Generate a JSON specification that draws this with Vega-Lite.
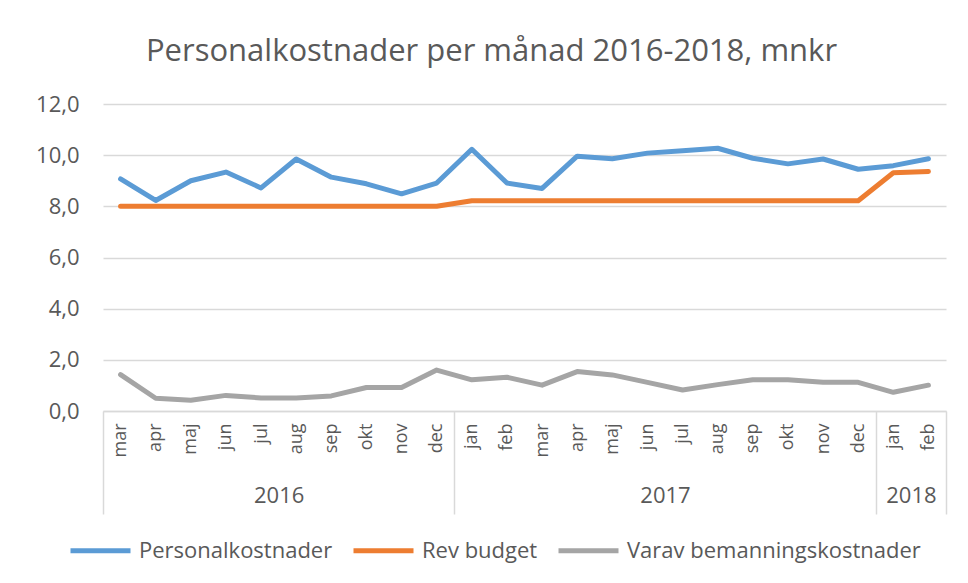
{
  "$schema": "https://vega.github.io/schema/vega-lite/v6.json",
  "width": 843,
  "height": 307,
  "autosize": {"type": "none"},
  "padding": {"left": 103, "top": 104, "right": 22, "bottom": 172},
  "background": "white",
  "title": {
    "text": "Personalkostnader per månad 2016-2018, mnkr",
    "font": "Open Sans",
    "fontSize": 31,
    "fontWeight": "normal",
    "color": "#595959",
    "anchor": "middle",
    "frame": "group",
    "dx": -33,
    "offset": 25
  },
  "config": {"view": {"stroke": null}, "font": "Open Sans"},
  "resolve": {"scale": {"x": "independent"}, "axis": {"x": "independent"}},
  "layer": [
    {
      "data": {
        "values": [
          {"period": "mar 2016", "Personalkostnader": 9.07, "Rev budget": 8.0, "Varav bemanningskostnader": 1.42},
          {"period": "apr 2016", "Personalkostnader": 8.23, "Rev budget": 8.0, "Varav bemanningskostnader": 0.5},
          {"period": "maj 2016", "Personalkostnader": 9.0, "Rev budget": 8.0, "Varav bemanningskostnader": 0.42},
          {"period": "jun 2016", "Personalkostnader": 9.34, "Rev budget": 8.0, "Varav bemanningskostnader": 0.61},
          {"period": "jul 2016", "Personalkostnader": 8.72, "Rev budget": 8.0, "Varav bemanningskostnader": 0.51},
          {"period": "aug 2016", "Personalkostnader": 9.85, "Rev budget": 8.0, "Varav bemanningskostnader": 0.51},
          {"period": "sep 2016", "Personalkostnader": 9.14, "Rev budget": 8.0, "Varav bemanningskostnader": 0.59},
          {"period": "okt 2016", "Personalkostnader": 8.88, "Rev budget": 8.0, "Varav bemanningskostnader": 0.92},
          {"period": "nov 2016", "Personalkostnader": 8.49, "Rev budget": 8.0, "Varav bemanningskostnader": 0.92},
          {"period": "dec 2016", "Personalkostnader": 8.91, "Rev budget": 8.0, "Varav bemanningskostnader": 1.6},
          {"period": "jan 2017", "Personalkostnader": 10.23, "Rev budget": 8.22, "Varav bemanningskostnader": 1.22},
          {"period": "feb 2017", "Personalkostnader": 8.91, "Rev budget": 8.22, "Varav bemanningskostnader": 1.32},
          {"period": "mar 2017", "Personalkostnader": 8.7, "Rev budget": 8.22, "Varav bemanningskostnader": 1.01},
          {"period": "apr 2017", "Personalkostnader": 9.96, "Rev budget": 8.22, "Varav bemanningskostnader": 1.54},
          {"period": "maj 2017", "Personalkostnader": 9.86, "Rev budget": 8.22, "Varav bemanningskostnader": 1.41},
          {"period": "jun 2017", "Personalkostnader": 10.08, "Rev budget": 8.22, "Varav bemanningskostnader": 1.12},
          {"period": "jul 2017", "Personalkostnader": 10.17, "Rev budget": 8.22, "Varav bemanningskostnader": 0.82},
          {"period": "aug 2017", "Personalkostnader": 10.27, "Rev budget": 8.22, "Varav bemanningskostnader": 1.03},
          {"period": "sep 2017", "Personalkostnader": 9.88, "Rev budget": 8.22, "Varav bemanningskostnader": 1.22},
          {"period": "okt 2017", "Personalkostnader": 9.66, "Rev budget": 8.22, "Varav bemanningskostnader": 1.22},
          {"period": "nov 2017", "Personalkostnader": 9.85, "Rev budget": 8.22, "Varav bemanningskostnader": 1.12},
          {"period": "dec 2017", "Personalkostnader": 9.45, "Rev budget": 8.22, "Varav bemanningskostnader": 1.12},
          {"period": "jan 2018", "Personalkostnader": 9.59, "Rev budget": 9.31, "Varav bemanningskostnader": 0.73},
          {"period": "feb 2018", "Personalkostnader": 9.86, "Rev budget": 9.36, "Varav bemanningskostnader": 1.01}
        ]
      },
      "transform": [
        {"fold": ["Personalkostnader", "Rev budget", "Varav bemanningskostnader"], "as": ["serie", "mnkr"]}
      ],
      "mark": {"type": "line", "strokeWidth": 5, "strokeCap": "round", "strokeJoin": "round"},
      "encoding": {
        "x": {
          "field": "period",
          "type": "ordinal",
          "sort": null,
          "scale": {"type": "point", "padding": 0.5},
          "axis": {
            "orient": "bottom",
            "title": null,
            "labelExpr": "split(datum.value, ' ')[0]",
            "labelAngle": 270,
            "labelAlign": "right",
            "labelBaseline": "middle",
            "labelFont": "Open Sans",
            "labelFontSize": 18,
            "labelColor": "#595959",
            "labelPadding": 12,
            "ticks": false,
            "grid": false,
            "domainColor": "#d9d9d9",
            "domainWidth": 1.5
          }
        },
        "y": {
          "field": "mnkr",
          "type": "quantitative",
          "scale": {"domain": [0, 12], "nice": false},
          "axis": {
            "title": null,
            "values": [0, 2, 4, 6, 8, 10, 12],
            "labelExpr": "replace(format(datum.value, '.1f'), '.', ',')",
            "labelFont": "Open Sans",
            "labelFontSize": 22,
            "labelColor": "#595959",
            "labelPadding": 24,
            "ticks": false,
            "domain": false,
            "grid": true,
            "gridColor": "#d9d9d9",
            "gridWidth": 1.5
          }
        },
        "color": {
          "field": "serie",
          "type": "nominal",
          "scale": {
            "domain": ["Personalkostnader", "Rev budget", "Varav bemanningskostnader"],
            "range": ["#5B9BD5", "#ED7D31", "#A5A5A5"]
          },
          "legend": {
            "orient": "none",
            "legendX": -35,
            "legendY": 414,
            "direction": "horizontal",
            "title": null,
            "symbolType": "stroke",
            "symbolSize": 3600,
            "symbolStrokeWidth": 5,
            "labelFont": "Open Sans",
            "labelFontSize": 22,
            "labelColor": "#595959",
            "labelOffset": 6,
            "columnPadding": 10,
            "labelLimit": 400
          }
        }
      }
    },
    {
      "data": {
        "values": [
          {"year": "2016", "first": 0, "last": 10},
          {"year": "2017", "first": 10, "last": 22},
          {"year": "2018", "first": 22, "last": 24}
        ]
      },
      "mark": {"type": "rule", "opacity": 0},
      "encoding": {
        "x": {
          "field": "first",
          "type": "quantitative",
          "scale": {"domain": [0, 24], "nice": false, "zero": false},
          "axis": {
            "orient": "bottom",
            "title": null,
            "values": [0, 10, 22, 24],
            "labels": false,
            "domain": false,
            "grid": false,
            "ticks": true,
            "tickSize": 103,
            "tickColor": "#d9d9d9",
            "tickWidth": 1.5
          }
        }
      }
    },
    {
      "data": {
        "values": [
          {"year": "2016", "first": 0, "last": 10},
          {"year": "2017", "first": 10, "last": 22},
          {"year": "2018", "first": 22, "last": 24}
        ]
      },
      "mark": {"type": "rule", "opacity": 0},
      "encoding": {
        "x": {
          "field": "last",
          "type": "quantitative",
          "scale": {"domain": [0, 24], "nice": false, "zero": false},
          "axis": {
            "orient": "bottom",
            "title": null,
            "values": [5, 16, 23],
            "labelExpr": "datum.value == 5 ? '2016' : datum.value == 16 ? '2017' : '2018'",
            "labelFont": "Open Sans",
            "labelFontSize": 22,
            "labelColor": "#595959",
            "labelPadding": 74,
            "domain": false,
            "grid": false,
            "ticks": false
          }
        }
      }
    }
  ]
}
